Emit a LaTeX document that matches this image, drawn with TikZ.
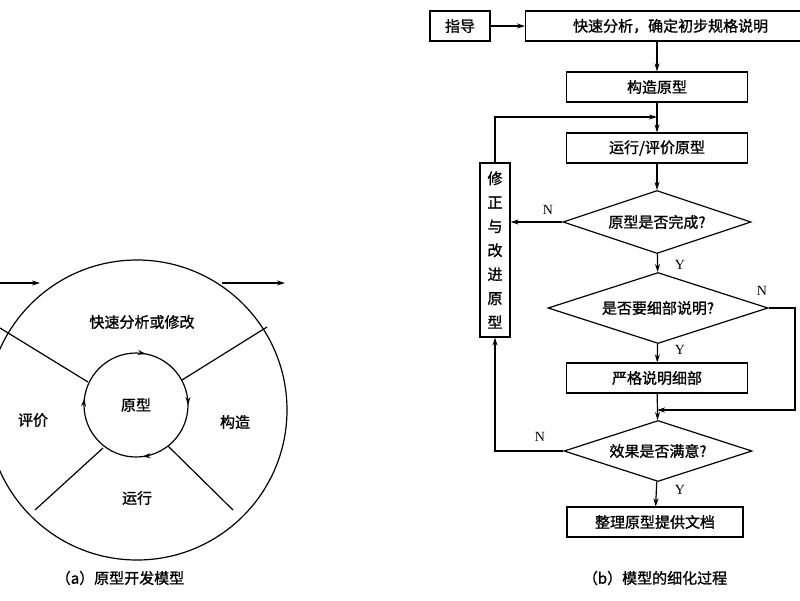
\documentclass[tikz,border=0pt]{standalone}
\usepackage{fontspec}
\setmainfont{Liberation Serif}
\newfontfamily\cjk{Noto Sans CJK SC}[FakeBold=1.2,AutoFakeBold=1.2]
\usetikzlibrary{shapes.geometric,arrows.meta,decorations.markings}
\begin{document}
\begin{tikzpicture}[x=1pt,y=-1pt,line width=1.2pt,
  font=\cjk\fontsize{15}{17}\selectfont,
  arr/.style={-{Stealth[length=8pt,width=5pt]}},
  box/.style={draw,minimum height=30pt,inner sep=0pt},
  dia/.style={draw,diamond,aspect=3,inner sep=0pt},
  lab/.style={font=\fontsize{14}{16}\selectfont}]
\useasboundingbox (0,0) rectangle (800,600);
% ---- left
\node[circle,minimum size=300pt,draw] (O) at (137,410) {};
\node[circle,minimum size=104pt,inner sep=0pt] (I) at (136,405) {原型};
\draw[postaction={decorate},decoration={markings,
  mark=at position 0.03 with {\arrow{Stealth[length=8pt,width=5pt]}},
  mark=at position 0.25 with {\arrow{Stealth[length=8pt,width=5pt]}},
  mark=at position 0.48 with {\arrow{Stealth[length=8pt,width=5pt]}},
  mark=at position 0.77 with {\arrow{Stealth[length=8pt,width=5pt]}}}]
  (136,353) arc[start angle=-90,end angle=270,radius=52];
\coordinate (a1) at (88,382); \coordinate (b1) at (0,328);
\coordinate (a2) at (182,380); \coordinate (b2) at (267,327);
\coordinate (a3) at (168,446); \coordinate (b3) at (233,510);
\coordinate (a4) at (103,448); \coordinate (b4) at (35,510);
\draw (a1)--(b1) (a2)--(b2) (a3)--(b3) (a4)--(b4);
\coordinate (in0) at (0,283); \coordinate (in1) at (40,283);
\coordinate (out0) at (222,283); \coordinate (out1) at (285,283);
\draw[arr] (in0)--(in1);
\draw[arr] (out0)--(out1);
\node (t1) at (142,322) {快速分析或修改};
\node (t2) at (33,420) {评价};
\node (t3) at (235,422) {构造};
\node (t4) at (137,498) {运行};
\node (ca) at (120,578) {（a）原型开发模型};
% ---- right
\node[box,minimum width=60pt] (g) at (460,26) {指导};
\node[box,minimum width=290pt,anchor=west] (k) at (525,26) {快速分析，确定初步规格说明};
\node[box,minimum width=181pt] (c) at (657,87) {构造原型};
\node[box,minimum width=181pt] (r) at (657,148) {运行/评价原型};
\node[dia,minimum width=188pt,minimum height=63pt] (d1) at (657,222) {原型是否完成?};
\node[dia,minimum width=220pt,minimum height=71pt] (d2) at (658,308) {是否要细部说明?};
\node[box,minimum width=181pt] (s) at (657,378) {严格说明细部};
\node[dia,minimum width=188pt,minimum height=61pt] (d3) at (658,451) {效果是否满意?};
\node[box,minimum width=176pt] (e) at (655,522) {整理原型提供文档};
\node[draw,minimum width=30pt,minimum height=174pt,inner sep=0pt,align=center,
  font=\cjk\fontsize{15}{24}\selectfont] (m) at (495,250) {修\\正\\与\\改\\进\\原\\型};
\draw[arr] (g)--(k);
\draw[arr] (c.north|-k.south)--(c);
\draw[arr] (c)--(r);
\draw[arr] (r)--(d1);
\draw[arr] (d1)--(d2);
\draw[arr] (d2)--(s);
\draw[arr] (s)--(d3);
\draw[arr] (d3)--(e);
\coordinate (j1) at (657,117);
\draw[arr] (m.north)|-(j1);
\draw[arr] (d1.west)--(m.east|-d1.west);
\coordinate (j2) at (795,308); \coordinate (j3) at (657,410);
\draw[arr] (d2.east)--(j2)|-(j3);
\draw[arr] (d3.west)-|(m.south);
\node[lab] at (548,210) {N};
\node[lab] at (680,265) {Y};
\node[lab] at (762,291) {N};
\node[lab] at (680,350) {Y};
\node[lab] at (540,437) {N};
\node[lab] at (680,490) {Y};
\node (cb) at (655,578) {（b）模型的细化过程};
\end{tikzpicture}
\end{document}
